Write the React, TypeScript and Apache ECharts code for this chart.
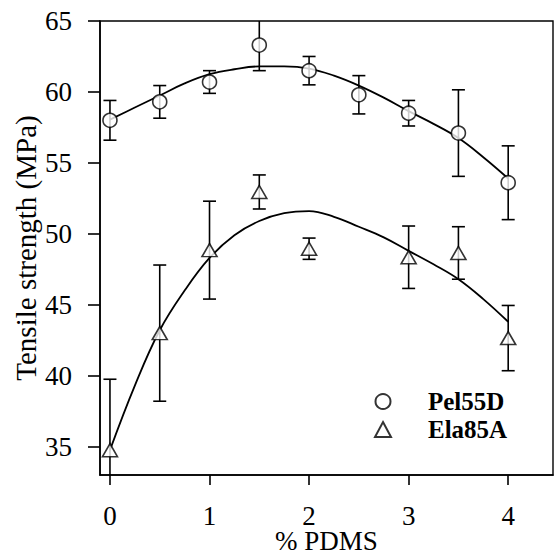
import React, { useEffect, useRef } from "react";
import * as echarts from "echarts";

// PDMS content (wt %) at which the blends were tested
const pelX = [0, 0.5, 1, 1.5, 2, 2.5, 3, 3.5, 4];
const pelMean = [58.0, 59.3, 60.7, 63.3, 61.5, 59.8, 58.5, 57.1, 53.6];
const pelErr = [1.4, 1.15, 0.8, 1.8, 1.0, 1.35, 0.9, 3.05, 2.6];

const elaX = [0, 0.5, 1, 1.5, 2, 3, 3.5, 4];
const elaMean = [34.75, 43.0, 48.85, 52.95, 48.95, 48.35, 48.65, 42.65];
const elaErr = [5.0, 4.8, 3.45, 1.2, 0.75, 2.2, 1.85, 2.3];

// Trend curves through each data set
const fitX = [0, 0.25, 0.5, 0.75, 1, 1.25, 1.5, 1.75, 2, 2.25, 2.5, 2.75, 3, 3.25, 3.5, 3.75, 4];
const pelFit = [58.05, 58.9, 59.75, 60.6, 61.25, 61.6, 61.8, 61.8, 61.65, 61.15, 60.45, 59.6, 58.65, 57.75, 56.75, 55.4, 53.9];
const elaFit = [34.75, 39.3, 43.2, 46.0, 48.3, 49.9, 50.9, 51.45, 51.6, 51.2, 50.5, 49.75, 48.8, 47.85, 46.8, 45.4, 43.8];

const xTicks = [0, 1, 2, 3, 4];
const yTicks = [35, 40, 45, 50, 55, 60, 65];

const X_MIN = -0.1;
const X_MAX = 4.45;
const Y_MIN = 33;
const Y_MAX = 65;

const SERIF = "Liberation Serif";

function errorBars(xs: number[], mean: number[], err: number[]) {
  return xs.map((x, i) => [x, mean[i] - err[i], mean[i] + err[i]]);
}

function renderErrorBar(params: any, api: any) {
  const x = api.value(0);
  const lo = api.value(1);
  const hi = api.value(2);
  const loC = Math.max(lo, Y_MIN);
  const hiC = Math.min(hi, Y_MAX);
  const pLo = api.coord([x, loC]);
  const pHi = api.coord([x, hiC]);
  const half = 6.5;
  const style = { stroke: "#000", lineWidth: 1.6 };
  const children: any[] = [
    { type: "line", shape: { x1: pLo[0], y1: pLo[1], x2: pHi[0], y2: pHi[1] }, style },
  ];
  if (hi <= Y_MAX) {
    children.push({ type: "line", shape: { x1: pHi[0] - half, y1: pHi[1], x2: pHi[0] + half, y2: pHi[1] }, style });
  }
  if (lo >= Y_MIN) {
    children.push({ type: "line", shape: { x1: pLo[0] - half, y1: pLo[1], x2: pLo[0] + half, y2: pLo[1] }, style });
  }
  return { type: "group", children };
}

export default function App() {
  const ref = useRef<HTMLDivElement>(null);

  useEffect(() => {
    if (!ref.current) return;
    const chart = echarts.init(ref.current, undefined, { renderer: "svg" });
    const axisLine = { show: true, onZero: false, lineStyle: { color: "#000", width: 1.6 } };
    chart.setOption({
      animation: false,
      backgroundColor: "#fff",
      textStyle: { fontFamily: SERIF, color: "#000" },
      grid: {
        left: 100,
        right: 2,
        top: 21,
        bottom: 81,
        outerBoundsMode: "none",
        containLabel: false,
        show: true,
        borderColor: "#000",
        borderWidth: 1.4,
        backgroundColor: "transparent",
      },
      xAxis: {
        type: "value",
        min: X_MIN,
        max: X_MAX,
        name: "% PDMS",
        nameLocation: "middle",
        nameGap: 56,
        nameMoveOverlap: false,
        nameTextStyle: { fontFamily: SERIF, fontSize: 27, lineHeight: 20, color: "#000" },
        axisLine,
        splitLine: { show: false },
        axisTick: { show: true, inside: false, length: 10, customValues: xTicks, lineStyle: { color: "#000", width: 1.6 } },
        axisLabel: { customValues: xTicks, margin: 31, fontFamily: SERIF, fontSize: 27, lineHeight: 20, color: "#000" },
      },
      yAxis: {
        type: "value",
        min: Y_MIN,
        max: Y_MAX,
        name: "Tensile strength (MPa)",
        nameLocation: "middle",
        nameGap: 60,
        nameMoveOverlap: false,
        nameTextStyle: { fontFamily: SERIF, fontSize: 29, color: "#000" },
        axisLine,
        splitLine: { show: false },
        axisTick: { show: true, inside: false, length: 12, customValues: yTicks, lineStyle: { color: "#000", width: 1.6 } },
        axisLabel: { customValues: yTicks, margin: 28, fontFamily: SERIF, fontSize: 27, color: "#000" },
      },
      legend: {
        orient: "vertical",
        left: 369,
        top: 384,
        itemWidth: 16,
        itemHeight: 15,
        itemGap: 3,
        data: ["Pel55D", "Ela85A"],
        textStyle: { fontFamily: SERIF, fontSize: 25, fontWeight: "bold", color: "#000", padding: [0, 0, 0, 32] },
      },
      series: [
        {
          type: "line",
          data: fitX.map((x, i) => [x, pelFit[i]]),
          smooth: 0.4,
          showSymbol: false,
          lineStyle: { color: "#000", width: 1.8 },
          silent: true,
          z: 1,
        },
        {
          type: "line",
          data: fitX.map((x, i) => [x, elaFit[i]]),
          smooth: 0.4,
          showSymbol: false,
          lineStyle: { color: "#000", width: 1.8 },
          silent: true,
          z: 1,
        },
        {
          type: "custom",
          data: errorBars(pelX, pelMean, pelErr),
          renderItem: renderErrorBar,
          encode: { x: 0, y: [1, 2] },
          z: 2,
        },
        {
          type: "custom",
          data: errorBars(elaX, elaMean, elaErr),
          renderItem: renderErrorBar,
          encode: { x: 0, y: [1, 2] },
          z: 2,
        },
        {
          name: "Pel55D",
          type: "scatter",
          data: pelX.map((x, i) => [x, pelMean[i]]),
          symbol: "circle",
          symbolSize: 14,
          itemStyle: { color: "#fff", borderColor: "#000", borderWidth: 1.6 },
          z: 3,
        },
        {
          name: "Ela85A",
          type: "scatter",
          data: elaX.map((x, i) => [x, elaMean[i]]),
          symbol: "triangle",
          symbolSize: [15, 13],
          itemStyle: { color: "#fff", borderColor: "#000", borderWidth: 1.6 },
          z: 3,
        },
      ],
    });
    return () => chart.dispose();
  }, []);

  return <div ref={ref} style={{ width: 555, height: 556, position: "absolute", left: 0, top: 0 }} />;
}
